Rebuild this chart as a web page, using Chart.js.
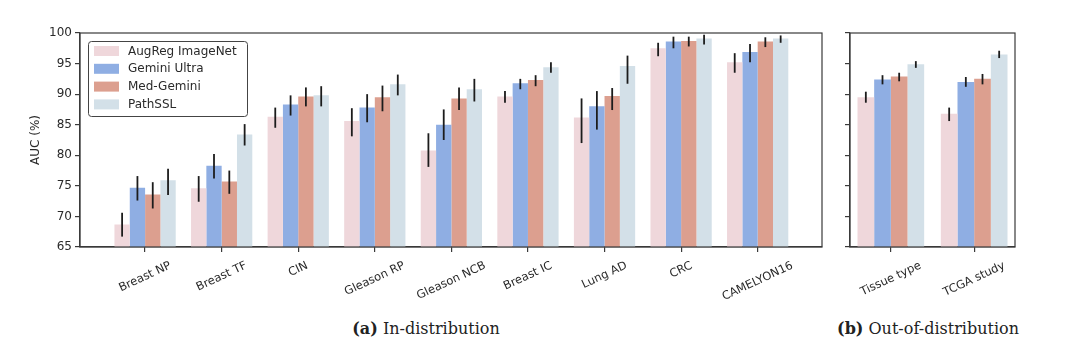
<!DOCTYPE html>
<html>
<head>
<meta charset="utf-8">
<script src="https://cdn.jsdelivr.net/npm/chart.js@4"></script>
<style>
  body { margin: 0; background: #fff; }
  #wrap { position: relative; width: 1080px; height: 352px; background: #fff; }
  canvas { position: absolute; top: 0; }
  .cap { position: absolute; top: 319px; font: 16px "DejaVu Serif", serif; color: #222; white-space: nowrap; transform: translateX(-50%); }
  .cap b { font-weight: bold; }
</style>
</head>
<body>
<div id="wrap">
  <canvas id="inDist" width="830" height="300" style="left:0"></canvas>
  <canvas id="outDist" width="250" height="300" style="left:830px"></canvas>
  <div class="cap" style="left:426px"><b>(a)</b> In-distribution</div>
  <div class="cap" style="left:928px"><b>(b)</b> Out-of-distribution</div>
</div>
<script>
// in-distribution tasks
var categoriesID = ["Breast NP", "Breast TF", "CIN", "Gleason RP", "Gleason NCB", "Breast IC", "Lung AD", "CRC", "CAMELYON16"];
var augregID     = [68.7, 74.6, 86.3, 85.6, 80.8, 89.6, 86.2, 97.5, 95.2];
var augregIDLow  = [66.7, 72.4, 84.5, 83.1, 78.1, 88.6, 82.0, 96.2, 93.5];
var augregIDHigh = [70.6, 76.6, 87.8, 87.7, 83.6, 90.5, 89.3, 98.4, 96.7];
var geminiID     = [74.7, 78.3, 88.3, 87.8, 85.0, 91.8, 88.0, 98.6, 96.9];
var geminiIDLow  = [72.6, 76.2, 86.5, 85.4, 82.5, 90.8, 84.2, 97.5, 95.2];
var geminiIDHigh = [76.6, 80.2, 89.8, 90.0, 87.5, 92.5, 90.5, 99.4, 98.2];
var medID        = [73.6, 75.7, 89.6, 89.5, 89.3, 92.3, 89.7, 98.7, 98.6];
var medIDLow     = [71.3, 73.7, 88.0, 87.2, 87.4, 91.3, 87.4, 97.8, 97.7];
var medIDHigh    = [75.6, 77.5, 91.1, 91.4, 91.1, 93.1, 91.0, 99.4, 99.3];
var pathID       = [75.9, 83.4, 89.8, 91.6, 90.8, 94.4, 94.6, 99.1, 99.1];
var pathIDLow    = [73.5, 81.6, 88.0, 89.8, 88.8, 93.5, 91.7, 98.1, 98.4];
var pathIDHigh   = [77.8, 85.1, 91.3, 93.2, 92.5, 95.2, 96.3, 99.7, 99.6];

// out-of-distribution tasks
var categoriesOOD = ["Tissue type", "TCGA study"];
var augregOOD     = [89.5, 86.8];
var augregOODLow  = [88.6, 85.6];
var augregOODHigh = [90.4, 87.8];
var geminiOOD     = [92.4, 92.0];
var geminiOODLow  = [91.6, 91.2];
var geminiOODHigh = [93.1, 92.8];
var medOOD        = [92.9, 92.5];
var medOODLow     = [92.1, 91.6];
var medOODHigh    = [93.5, 93.3];
var pathOOD       = [94.9, 96.5];
var pathOODLow    = [94.3, 95.9];
var pathOODHigh   = [95.4, 97.1];

var yTicks = [65, 70, 75, 80, 85, 90, 95, 100];
var seriesNames = ["AugReg ImageNet", "Gemini Ultra", "Med-Gemini", "PathSSL"];
var seriesColors = ["#efd7db", "#8faee3", "#dc9f8f", "#d3e0e8"];

var axisColor = "#3a3a3a";
Chart.defaults.font.family = "DejaVu Sans";
Chart.defaults.color = "#2a2a2a";

function points(vals) {
  return vals.map(function (v, i) { return { x: i, y: v }; });
}

function makeDatasets(vals, lows, highs) {
  return vals.map(function (v, k) {
    return {
      label: seriesNames[k],
      data: points(v),
      errLow: lows[k],
      errHigh: highs[k],
      backgroundColor: seriesColors[k],
      borderWidth: 0,
      categoryPercentage: 0.8,
      barPercentage: 1.0,
    };
  });
}

var errorBars = {
  id: "errorBars",
  afterDatasetsDraw: function (chart) {
    var ctx = chart.ctx, ys = chart.scales.y;
    ctx.save();
    ctx.strokeStyle = "#1c1c1c";
    ctx.lineWidth = 1.8;
    chart.data.datasets.forEach(function (ds, d) {
      chart.getDatasetMeta(d).data.forEach(function (bar, i) {
        ctx.beginPath();
        ctx.moveTo(bar.x, ys.getPixelForValue(ds.errLow[i]));
        ctx.lineTo(bar.x, ys.getPixelForValue(ds.errHigh[i]));
        ctx.stroke();
      });
    });
    ctx.restore();
  },
};

var frame = {
  id: "frame",
  afterDraw: function (chart) {
    var a = chart.chartArea, ctx = chart.ctx;
    ctx.save();
    ctx.strokeStyle = axisColor;
    ctx.lineWidth = 1.2;
    ctx.strokeRect(a.left, a.top, a.right - a.left, a.bottom - a.top);
    ctx.restore();
  },
};

function rotatedLabels(cats) {
  return {
    id: "rotatedLabels",
    afterDraw: function (chart) {
      var ctx = chart.ctx, xs = chart.scales.x, ang = 25 * Math.PI / 180;
      ctx.save();
      ctx.font = "11.5px 'DejaVu Sans'";
      ctx.fillStyle = "#2a2a2a";
      ctx.textAlign = "center";
      ctx.textBaseline = "middle";
      cats.forEach(function (c, i) {
        var w = ctx.measureText(c).width;
        var bh = w * Math.sin(ang) + 9 * Math.cos(ang);
        var x = xs.getPixelForValue(i);
        var y = chart.chartArea.bottom + 14 + bh / 2;
        ctx.save();
        ctx.translate(x, y);
        ctx.rotate(-ang);
        ctx.fillText(c, 0, 0);
        ctx.restore();
      });
      ctx.restore();
    },
  };
}

var boxLegend = {
  id: "boxLegend",
  afterDraw: function (chart) {
    var a = chart.chartArea, ctx = chart.ctx;
    var bx = a.left + 8, by = a.top + 8, bw = 159, bh = 75;
    ctx.save();
    ctx.fillStyle = "rgba(255,255,255,0.85)";
    ctx.strokeStyle = "#444";
    ctx.lineWidth = 1;
    ctx.beginPath();
    ctx.roundRect(bx + 0.5, by + 0.5, bw, bh, 3);
    ctx.fill();
    ctx.stroke();
    ctx.font = "12px 'DejaVu Sans'";
    ctx.textBaseline = "middle";
    chart.data.datasets.forEach(function (ds, k) {
      var cy = by + 10 + k * 17.8;
      ctx.fillStyle = ds.backgroundColor;
      ctx.fillRect(bx + 6, cy - 5, 25, 10);
      ctx.fillStyle = "#2a2a2a";
      ctx.fillText(ds.label, bx + 40, cy + 0.5);
    });
    ctx.restore();
  },
};

function makeChart(id, cats, datasets, xmin, xmax, yWidth, padRight, showYLabels, extra) {
  return new Chart(document.getElementById(id), {
    type: "bar",
    data: { datasets: datasets },
    plugins: [errorBars, frame, rotatedLabels(cats)].concat(extra),
    options: {
      responsive: false,
      animation: false,
      devicePixelRatio: 1,
      layout: { padding: { top: 33, right: padRight, left: 0, bottom: 0 } },
      plugins: { legend: { display: false }, tooltip: { enabled: false } },
      scales: {
        x: {
          type: "linear",
          min: xmin,
          max: xmax,
          offset: false,
          afterBuildTicks: function (scale) {
            scale.ticks = cats.map(function (c, i) { return { value: i }; });
          },
          afterFit: function (scale) { scale.height = 53; },
          ticks: { display: false },
          grid: { offset: false, drawOnChartArea: false, drawTicks: true, tickLength: 5, color: axisColor, lineWidth: 1.2 },
          border: { color: axisColor, width: 1.2 },
        },
        y: {
          min: 65,
          max: 100,
          afterBuildTicks: function (scale) {
            scale.ticks = yTicks.map(function (v) { return { value: v }; });
          },
          afterFit: function (scale) { scale.width = yWidth; },
          ticks: {
            padding: 3,
            font: { size: 12 },
            callback: function (v) { return showYLabels ? v : ""; },
          },
          grid: { drawOnChartArea: false, drawTicks: true, tickLength: 5, color: axisColor, lineWidth: 1.2 },
          border: { color: axisColor, width: 1.2 },
          title: {
            display: showYLabels,
            text: "AUC (%)",
            font: { size: 12 },
            padding: { top: 29, bottom: 0 },
          },
        },
      },
    },
  });
}

makeChart("inDist", categoriesID,
  makeDatasets([augregID, geminiID, medID, pathID],
               [augregIDLow, geminiIDLow, medIDLow, pathIDLow],
               [augregIDHigh, geminiIDHigh, medIDHigh, pathIDHigh]),
  -0.85, 8.84, 80, 8, true, [boxLegend]);

makeChart("outDist", categoriesOOD,
  makeDatasets([augregOOD, geminiOOD, medOOD, pathOOD],
               [augregOODLow, geminiOODLow, medOODLow, pathOODLow],
               [augregOODHigh, geminiOODHigh, medOODHigh, pathOODHigh]),
  -0.49, 1.49, 20, 65, false, []);
</script>
</body>
</html>
